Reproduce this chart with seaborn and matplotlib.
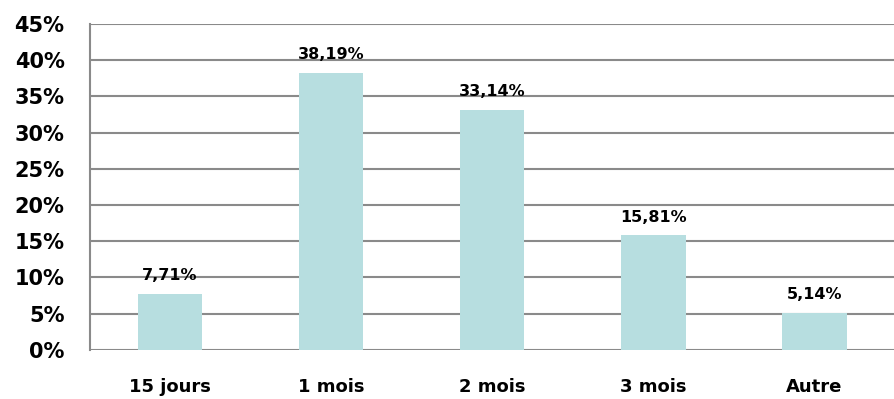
import numpy as np
import matplotlib
matplotlib.use("Agg")
import matplotlib.pyplot as plt
import pandas as pd
import seaborn as sns
from matplotlib.ticker import MultipleLocator, FixedLocator

# données
categories = ["15 jours", "1 mois", "2 mois", "3 mois", "Autre"]
valeurs = [7.71, 38.19, 33.14, 15.81, 5.14]
etiquettes = ["7,71%", "38,19%", "33,14%", "15,81%", "5,14%"]

df = pd.DataFrame({"cat": categories, "val": valeurs})

sns.set_style("white")
plt.rcParams['font.family'] = ['DejaVu Sans']
plt.rcParams['text.color'] = 'black'
plt.rcParams['xtick.color'] = 'black'
plt.rcParams['ytick.color'] = 'black'

fig, ax = plt.subplots(figsize=(8.95, 3.99), dpi=100)
fig.subplots_adjust(left=0.1, right=1.0, top=0.94, bottom=0.123)

sns.barplot(data=df, x="cat", y="val", color="#B7DEE0", width=0.4,
            saturation=1, ax=ax, zorder=3, edgecolor="none")

for i, (v, t) in enumerate(zip(valeurs, etiquettes)):
    ax.text(i, v + 1.5, t, ha="center", va="bottom", fontsize=11.5,
            fontweight="bold", color="black")

ax.set_ylim(0, 45)
ax.set_xlim(-0.5, 4.5)
ax.yaxis.set_major_locator(MultipleLocator(5))
ax.set_yticklabels([f"{int(t)}%" for t in ax.get_yticks()])
ax.grid(axis="y", color="#8a8a8a", linewidth=1.5, zorder=0)
ax.set_axisbelow(True)

for s in ["top", "right", "bottom"]:
    ax.spines[s].set_visible(False)
ax.spines["left"].set_color("#8a8a8a")
ax.spines["left"].set_linewidth(1.5)

ax.tick_params(axis="y", length=7, width=1.5, color="#8a8a8a",
               labelcolor="black", labelsize=15, pad=11)
for lab in ax.get_yticklabels():
    lab.set_fontweight("bold")

ax.tick_params(axis="x", length=0, labelsize=13, pad=20, labelcolor="black")
for lab in ax.get_xticklabels():
    lab.set_fontweight("bold")
ax.xaxis.set_minor_locator(FixedLocator([0.5, 1.5, 2.5, 3.5]))
ax.tick_params(axis="x", which="minor", length=4, width=1, color="#8a8a8a")

ax.set_xlabel("")
ax.set_ylabel("")

plt.savefig("out.png", dpi=100)
